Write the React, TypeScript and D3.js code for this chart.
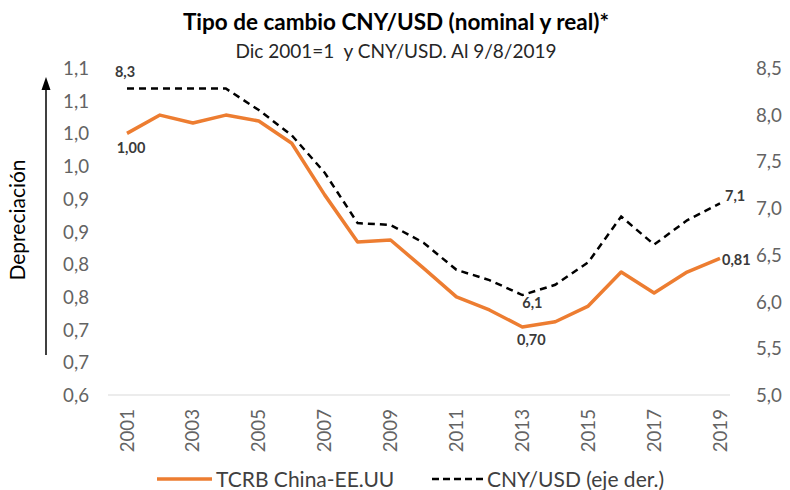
import React from "react";
import * as d3 from "d3";

const years = [2001,2002,2003,2004,2005,2006,2007,2008,2009,2010,2011,2012,2013,2014,2015,2016,2017,2018,2019];
const tcrb = [1.00,1.028,1.016,1.028,1.019,0.985,0.906,0.834,0.837,0.794,0.750,0.730,0.704,0.712,0.736,0.788,0.756,0.788,0.809];
const cnyusd = [8.28,8.28,8.28,8.28,8.05,7.78,7.38,6.84,6.82,6.63,6.34,6.23,6.07,6.18,6.42,6.91,6.61,6.87,7.05];
const leftTicks = [0.6,0.65,0.7,0.75,0.8,0.85,0.9,0.95,1.0,1.05,1.1];
const rightTicks = [5.0,5.5,6.0,6.5,7.0,7.5,8.0,8.5];
const yearLabels = [2001,2003,2005,2007,2009,2011,2013,2015,2017,2019];

const FONT = "Lato, 'Open Sans', sans-serif";

export default function App() {
  const W = 790, H = 490;
  const x = d3.scaleLinear().domain([2001, 2019]).range([127, 720]);
  const yL = d3.scaleLinear().domain([0.6, 1.1]).range([395, 68]);
  const yR = d3.scaleLinear().domain([5.0, 8.5]).range([395, 68]);
  const lineL = d3.line<number>().x((_, i) => x(years[i])).y((d) => yL(d));
  const lineR = d3.line<number>().x((_, i) => x(years[i])).y((d) => yR(d));
  const fmt1 = (v: number) => (Math.round(v * 10 + 1e-9) / 10).toFixed(1).replace(".", ",");
  const fmt2 = (v: number) => v.toFixed(2).replace(".", ",");
  const tickColor = "#636363";
  const lblColor = "#3a3a3a";
  const i13 = years.indexOf(2013);
  const last = years.length - 1;
  return (
    <svg width={W} height={H} style={{ display: "block", position: "absolute", left: 0, top: 0, background: "#fff" }} fontFamily={FONT}>
      <text x={396} y={30} textAnchor="middle" fontWeight="bold" fontSize={22.5} fill="#000">Tipo de cambio CNY/USD (nominal y real)*</text>
      <text x={396} y={58} textAnchor="middle" fontSize={19} fill="#262626" style={{ whiteSpace: "pre" }}>{"Dic 2001=1  y CNY/USD. Al 9/8/2019"}</text>

      <line x1={108} x2={730} y1={395} y2={395} stroke="#d9d9d9" strokeWidth={1} />

      {leftTicks.map((t) => (
        <text key={"l" + t} x={89} y={yL(t) + 7} textAnchor="end" fontSize={18.7} fill={tickColor}>{fmt1(t)}</text>
      ))}
      {rightTicks.map((t) => (
        <text key={"r" + t} x={756} y={yR(t) + 7} textAnchor="start" fontSize={18.7} fill={tickColor}>{t.toFixed(1).replace(".", ",")}</text>
      ))}
      {yearLabels.map((yv) => (
        <text key={"y" + yv} transform={`translate(${x(yv) + 6.5},${409}) rotate(-90)`} textAnchor="end" fontSize={18.7} fill={tickColor}>{yv}</text>
      ))}

      <line x1={46} x2={46} y1={355} y2={88} stroke="#000" strokeWidth={1.5} />
      <path d="M46,77 L41.5,90 L50.5,90 Z" fill="#000" />
      <text transform="translate(25,220) rotate(-90)" textAnchor="middle" fontSize={21} fill="#000">Depreciación</text>

      <path d={lineR(cnyusd) || ""} fill="none" stroke="#000" strokeWidth={2.5} strokeDasharray="7,5" />
      <path d={lineL(tcrb) || ""} fill="none" stroke="#ED7D31" strokeWidth={3.5} strokeLinejoin="round" />

      <g fontSize={14.5} fontWeight="bold" fill={lblColor}>
        <text x={x(2001) - 2} y={yR(cnyusd[0]) - 12} textAnchor="middle">{fmt1(cnyusd[0])}</text>
        <text x={x(2001) + 4} y={yL(tcrb[0]) + 20} textAnchor="middle">{fmt2(tcrb[0])}</text>
        <text x={x(2013) + 10} y={yR(cnyusd[i13]) + 13} textAnchor="middle">{fmt1(cnyusd[i13])}</text>
        <text x={x(2013) + 9} y={yL(tcrb[i13]) + 18} textAnchor="middle">{fmt2(tcrb[i13])}</text>
        <text x={x(2019) + 5} y={yR(cnyusd[last]) - 2} textAnchor="start">{fmt1(cnyusd[last])}</text>
        <text x={x(2019) + 2} y={yL(tcrb[last]) + 6.5} textAnchor="start">{fmt2(tcrb[last])}</text>
      </g>

      <line x1={157} x2={212} y1={479} y2={479} stroke="#ED7D31" strokeWidth={3.5} />
      <text x={216} y={487} fontSize={21} fill="#404040">TCRB China-EE.UU</text>
      <line x1={432} x2={487} y1={479} y2={479} stroke="#000" strokeWidth={2.5} strokeDasharray="7,4" />
      <text x={487} y={487} fontSize={21} fill="#404040">CNY/USD (eje der.)</text>
    </svg>
  );
}
